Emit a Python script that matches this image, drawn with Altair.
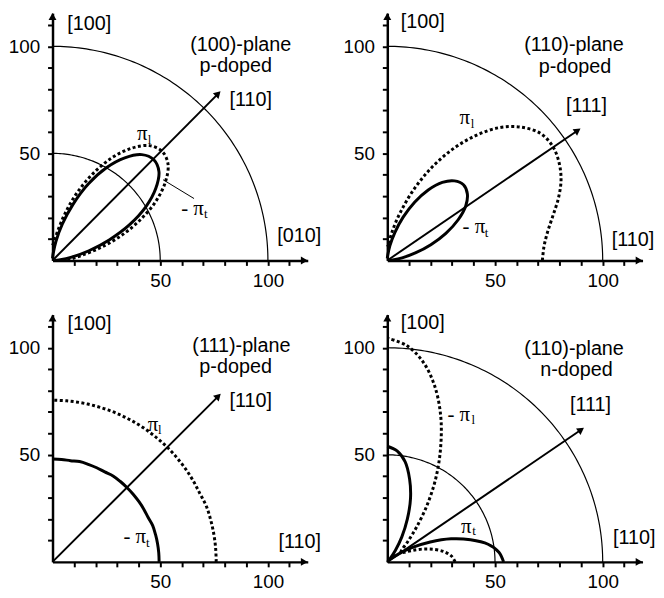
import math
import altair as alt
import pandas as pd

# ---------------- data ----------------
ANGLES = [0, 5, 10, 15, 20, 25, 30, 35, 40, 45, 50, 55, 60, 65, 70, 75, 80, 85, 90]

# (100)-plane, p-doped
P1_PI_L = [7, 9, 14, 23, 34, 45, 55.5, 64, 70, 72, 70, 64, 55.5, 45, 34, 23, 14, 9, 7]
P1_MINUS_PI_T = [1, 3, 9, 17.5, 28, 39.5, 50, 58.5, 64.5, 66.5, 64.5, 58.5, 50, 39.5, 28, 17.5, 9, 3, 1]
# (110)-plane, p-doped
P2_PI_L = [72, 73, 75.5, 79.5, 84.5, 89, 92, 93.5, 92.5, 88, 81, 71, 59.5, 47, 34.5, 23, 14.5, 8.5, 6.5]
P2_MINUS_PI_T = [1, 2.5, 7, 13.5, 21.5, 30, 38, 44.5, 48.5, 50, 48.5, 44.5, 38, 30, 21.5, 13.5, 7, 2.5, 1]
# (111)-plane, p-doped
P3_PI_L = [76, 76, 76, 76, 76, 75.5, 75.5, 75.5, 75.5, 75.5, 75.5, 75.5, 75.5, 75.5, 75.5, 75.5, 75.5, 75.5, 75.5]
P3_MINUS_PI_T = [49.5, 49.5, 49.5, 49.5, 49.5, 49, 49, 49, 49, 49, 49, 49, 48.5, 48.5, 48.5, 48.5, 48, 48, 48]
# (110)-plane, n-doped
P4_MINUS_PI_L = [31.5, 30, 27, 22.5, 17.5, 12.5, 9, 7.5, 9, 13.5, 21, 32, 45, 58.5, 72.5, 85, 95, 101.5, 104.5]
P4_PI_T = [54, 52, 47.5, 40, 31.5, 22, 13.5, 6.5, 2, 0.5, 2, 6.5, 13.5, 22, 31.5, 40, 47.5, 52, 54]

GRID_RADII = [[50, 100], [100], [], [50, 100]]
ARROW_TIPS = [(78.0, 79.0), (89.7, 61.6), (78.1, 78.5), (91.3, 62.6)]
LEADERS = [[(51.3, 37.7, 65.7, 28.9)], [], [], []]

TEXTS = [
    [("[100]", 17.1, 110.5), ("[110]", 92.0, 74.7), ("[010]", 114.5, 11.2),
     ("(100)-plane", 87.4, 100.5), ("p-doped", 85.1, 90.6)],
    [("[100]", 16.5, 111.3), ("[111]", 92.5, 72.1), ("[110]", 114.1, 9.7),
     ("(110)-plane", 86.7, 100.5), ("p-doped", 87.1, 90.4)],
    [("[100]", 17.2, 111.0), ("[110]", 92.0, 75.0), ("[110]", 114.8, 9.2),
     ("(111)-plane", 87.7, 100.8), ("p-doped", 85.0, 90.9)],
    [("[100]", 16.5, 111.4), ("[111]", 94.3, 73.3), ("[110]", 114.6, 11.0),
     ("(110)-plane", 86.7, 99.5), ("n-doped", 87.8, 89.5)],
]
GREEK = [
    [("π", 41.6, 59.1), ("- π", 65.0, 23.9)],
    [("π", 36.0, 66.3), ("- π", 40.2, 15.4)],
    [("π", 46.6, 63.9), ("- π", 38.2, 11.5)],
    [("- π", 33.2, 68.7), ("π", 36.7, 16.4)],
]
SUBS = [
    [("l", 45.0, 56.4), ("t", 71.2, 21.6)],
    [("l", 39.6, 63.9), ("t", 46.1, 13.0)],
    [("l", 49.8, 61.6), ("t", 44.2, 9.0)],
    [("l", 39.9, 66.4), ("t", 40.3, 14.2)],
]
CURVES = [
    [("solid", P1_MINUS_PI_T), ("dotted", P1_PI_L)],
    [("solid", P2_MINUS_PI_T), ("dotted", P2_PI_L)],
    [("solid", P3_MINUS_PI_T), ("dotted", P3_PI_L)],
    [("solid", P4_PI_T), ("dotted", P4_MINUS_PI_L)],
]
X_TICKS = [10, 20, 30, 40, 50, 60, 70, 80, 90, 100, 110]
Y_TICKS = [10, 20, 30, 40, 50, 60, 70, 80, 90, 100, 110]

# ---------------- layout / style ----------------
X_MAX, Y_MAX = 118.5, 115.5
W, H = 258, 250
SANS = "Liberation Sans, Arial, sans-serif"
SERIF = "Liberation Serif, Times New Roman, serif"
INK = "#000000"

LABEL_EXPR = "datum.value == 50 || datum.value == 100 ? datum.label : ''"
x_axis = alt.Axis(values=X_TICKS, labelExpr=LABEL_EXPR, title=None, grid=False,
                  tickSize=5, tickWidth=2, labelPadding=6, domainWidth=2.5,
                  labelOverlap=False, labelFlush=False)
y_axis = alt.Axis(values=Y_TICKS, labelExpr=LABEL_EXPR, title=None, grid=False,
                  tickSize=5, tickWidth=2, labelPadding=8, domainWidth=2.5,
                  labelOverlap=False, labelFlush=False)
XS = alt.Scale(domain=[0, X_MAX], nice=False, zero=False)
YS = alt.Scale(domain=[0, Y_MAX], nice=False, zero=False)


def X(f="x"):
    return alt.X(f"{f}:Q", scale=XS, axis=x_axis)


def Y(f="y"):
    return alt.Y(f"{f}:Q", scale=YS, axis=y_axis)


def polar(radii, name):
    rows = []
    for i, (a, r) in enumerate(zip(ANGLES, radii)):
        t = math.radians(a)
        rows.append({"x": r * math.cos(t), "y": r * math.sin(t), "i": i, "curve": name})
    return rows


def panel(k):
    layers = []
    # reference circles
    arc_rows = []
    for r in GRID_RADII[k]:
        for a in range(0, 91):
            t = math.radians(a)
            arc_rows.append({"x": r * math.cos(t), "y": r * math.sin(t), "i": a, "r": r})
    if arc_rows:
        layers.append(alt.Chart(pd.DataFrame(arc_rows)).mark_line(
            color=INK, strokeWidth=1.2).encode(x=X(), y=Y(), detail="r:N", order="i:Q"))
    # axis arrowheads and direction arrow
    tx, ty = ARROW_TIPS[k]
    ang = math.atan2(ty, tx)
    back_x = 1.6
    heads = pd.DataFrame([
        {"x": X_MAX - back_x, "y": 0, "rot": 90},
        {"x": 0, "y": Y_MAX - back_x, "rot": 0},
        {"x": tx - back_x * math.cos(ang), "y": ty - back_x * math.sin(ang),
         "rot": 90 - math.degrees(ang)},
    ])
    arrow = pd.DataFrame([{"x": 0, "y": 0, "x2": tx - 2 * math.cos(ang), "y2": ty - 2 * math.sin(ang)}])
    layers.append(alt.Chart(arrow).mark_rule(color=INK, strokeWidth=2).encode(
        x=X(), y=Y(), x2="x2:Q", y2="y2:Q"))
    if LEADERS[k]:
        lead = pd.DataFrame([{"x": a, "y": b, "x2": c, "y2": d} for a, b, c, d in LEADERS[k]])
        layers.append(alt.Chart(lead).mark_rule(color=INK, strokeWidth=1).encode(
            x=X(), y=Y(), x2="x2:Q", y2="y2:Q"))
    # curves
    solid, dotted = [], []
    for style, radii in CURVES[k]:
        (solid if style == "solid" else dotted).extend(polar(radii, style))
    layers.append(alt.Chart(pd.DataFrame(dotted)).mark_line(
        color=INK, strokeWidth=3, strokeDash=[3, 2.5], interpolate="catmull-rom").encode(
        x=X(), y=Y(), detail="curve:N", order="i:Q"))
    layers.append(alt.Chart(pd.DataFrame(solid)).mark_line(
        color=INK, strokeWidth=3, interpolate="catmull-rom").encode(
        x=X(), y=Y(), detail="curve:N", order="i:Q"))
    layers.append(alt.Chart(heads).mark_point(
        shape="triangle-up", filled=True, size=64, color=INK, opacity=1).encode(
        x=X(), y=Y(), angle=alt.Angle("rot:Q", scale=None)))
    # texts
    tdf = pd.DataFrame([{"t": t, "x": x, "y": y} for t, x, y in TEXTS[k]])
    layers.append(alt.Chart(tdf).mark_text(font=SANS, fontSize=20, color=INK,
                                           align="center", baseline="middle").encode(
        x=X(), y=Y(), text="t:N"))
    gdf = pd.DataFrame([{"t": t, "x": x, "y": y} for t, x, y in GREEK[k]])
    layers.append(alt.Chart(gdf).mark_text(font=SERIF, fontSize=21, color=INK,
                                           align="center", baseline="middle").encode(
        x=X(), y=Y(), text="t:N"))
    sdf = pd.DataFrame([{"t": t, "x": x, "y": y} for t, x, y in SUBS[k]])
    layers.append(alt.Chart(sdf).mark_text(font=SERIF, fontSize=13, color=INK,
                                           align="center", baseline="middle").encode(
        x=X(), y=Y(), text="t:N"))
    return alt.layer(*layers).properties(width=W, height=H)


chart = alt.concat(
    panel(0), panel(1), panel(2), panel(3),
    columns=2,
    spacing=alt.RowColnumber(row=54.7, column=80.4),
    bounds="flush",
).properties(
    padding={"left": 0, "top": 1, "right": 0, "bottom": 0}
).configure_view(stroke=None).configure_axis(
    labelFont=SANS, labelFontSize=19, labelColor=INK,
    domainColor=INK, tickColor=INK,
)

chart.save("out.html", embed_options={"renderer": "svg", "actions": False})
